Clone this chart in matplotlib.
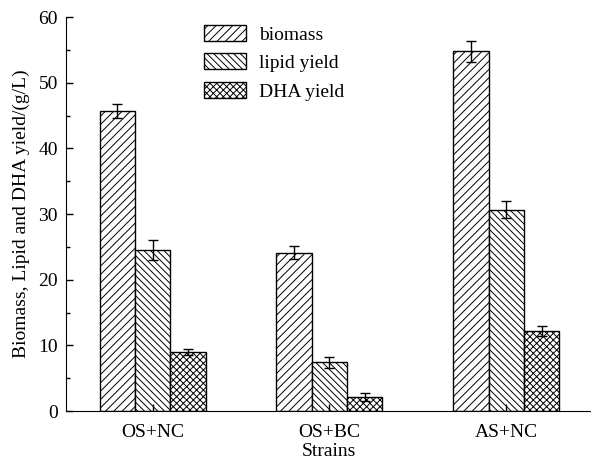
import numpy as np
import matplotlib.pyplot as plt
from matplotlib.ticker import MultipleLocator

strains = ["OS+NC", "OS+BC", "AS+NC"]
biomass = [45.7, 24.1, 54.8]
biomass_err = [1.1, 1.0, 1.6]
lipid = [24.5, 7.4, 30.7]
lipid_err = [1.5, 0.8, 1.3]
dha = [9.0, 2.2, 12.2]
dha_err = [0.5, 0.6, 0.7]

plt.rcParams['font.family'] = ['Liberation Serif', 'DejaVu Serif']
plt.rcParams['font.size'] = 14
plt.rcParams['hatch.linewidth'] = 0.7

fig = plt.figure(figsize=(5.91, 4.65), dpi=100)
ax = fig.add_axes([0.112, 0.116, 0.888, 0.847])

x = np.arange(len(strains))
w = 0.2
series = [
    (biomass, biomass_err, "biomass", "////"),
    (lipid, lipid_err, "lipid yield", "\\\\\\\\\\"),
    (dha, dha_err, "DHA yield", "xxxxx"),
]
for i, (vals, errs, lab, hatch) in enumerate(series):
    ax.bar(x + (i - 1) * w, vals, w, yerr=errs, color="white", edgecolor="black",
           linewidth=1.0, hatch=hatch, label=lab, capsize=3.5,
           error_kw=dict(elinewidth=1.0, capthick=1.0, ecolor="black"))

ax.set_xlim(-0.49, 2.48)
ax.set_ylim(0, 60)
ax.set_xticks(x)
ax.set_xticklabels(strains)
ax.yaxis.set_major_locator(MultipleLocator(10))
ax.yaxis.set_minor_locator(MultipleLocator(5))
ax.tick_params(direction="in", length=5, width=1, pad=6)
ax.tick_params(axis="x", pad=9)
ax.tick_params(axis="y", which="minor", direction="in", length=3, width=1)
ax.tick_params(axis="x", which="minor", bottom=False)
ax.spines["top"].set_visible(False)
ax.spines["right"].set_visible(False)
ax.set_xlabel("Strains", labelpad=2)
ax.set_ylabel("Biomass, Lipid and DHA yield/(g/L)", labelpad=6)

ax.legend(loc="upper left", bbox_to_anchor=(0.229, 1.025), frameon=False,
          handlelength=2.15, handleheight=0.9, labelspacing=0.5, handletextpad=0.7)

fig.savefig("out.png", dpi=100)
